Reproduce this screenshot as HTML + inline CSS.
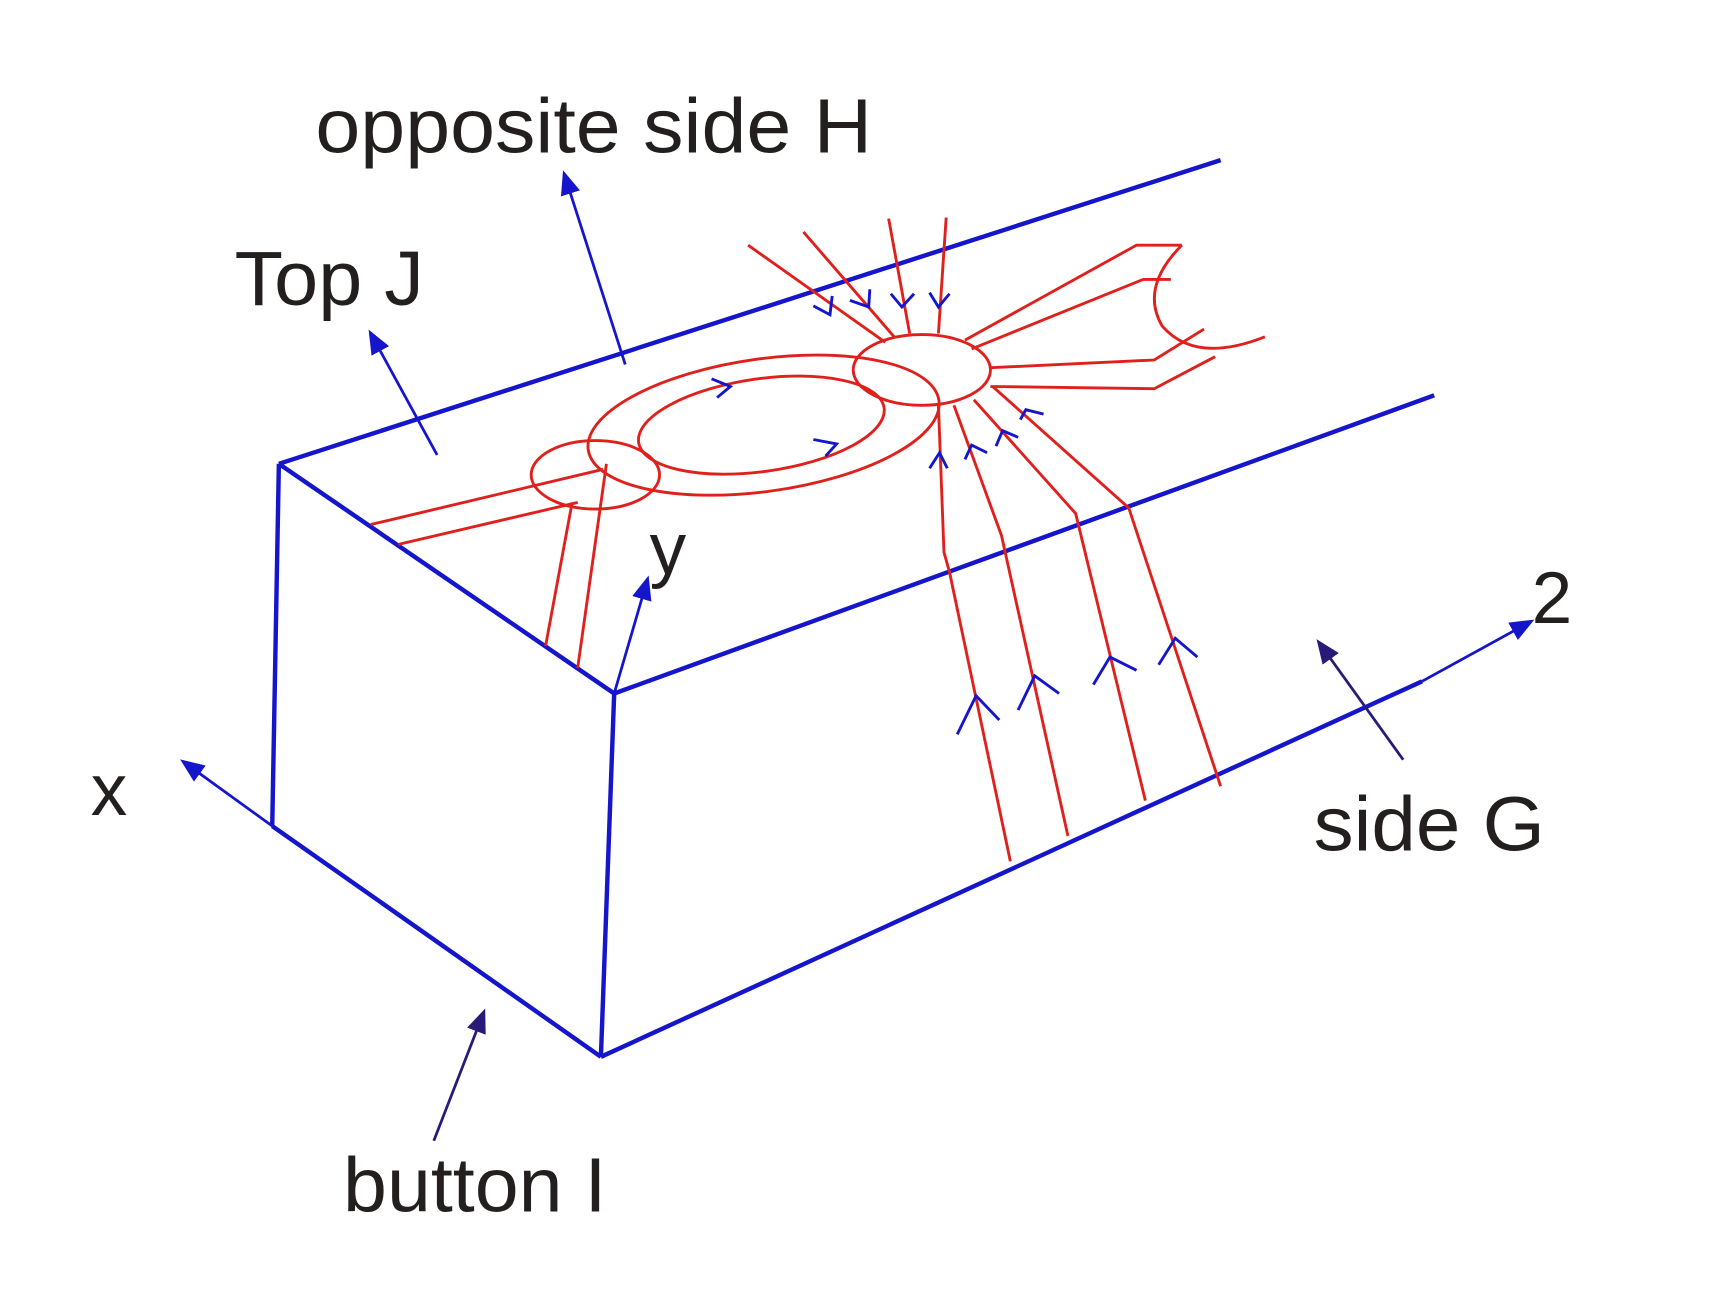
<!DOCTYPE html>
<html><head><meta charset="utf-8"><style>
html,body{margin:0;padding:0;background:#fff}
svg{display:block}
text{font-family:"Liberation Sans",sans-serif;fill:#231f1f}
</style></head><body>
<svg width="1733" height="1313" viewBox="0 0 1566 1189" preserveAspectRatio="none">
<defs>
<marker id="ab" markerWidth="22" markerHeight="18" refX="18" refY="9" orient="auto" markerUnits="userSpaceOnUse" viewBox="0 0 22 18"><path d="M0,0 L22,9 L0,18 z" fill="#1515cc"/></marker>
<marker id="ad" markerWidth="22" markerHeight="18" refX="18" refY="9" orient="auto" markerUnits="userSpaceOnUse" viewBox="0 0 22 18"><path d="M0,0 L22,9 L0,18 z" fill="#2a1a78"/></marker>
</defs>
<g stroke="#1515cc" stroke-width="4" fill="none">
<line x1="252" y1="420" x2="1103" y2="145"/>
<line x1="252" y1="420" x2="555" y2="628"/>
<line x1="555" y1="628" x2="1296" y2="358"/>
<line x1="252" y1="420" x2="246" y2="748"/>
<line x1="555" y1="628" x2="543" y2="957"/>
<line x1="246" y1="748" x2="543" y2="957"/>
<line x1="543" y1="957" x2="1285" y2="617"/>
</g>
<g stroke="#1515cc" stroke-width="2.5" fill="none">
<path d="M1285,617 L1383,563" marker-end="url(#ab)"/>
<line x1="246" y1="748" x2="166" y2="690" marker-end="url(#ab)"/>
<line x1="555" y1="628" x2="585" y2="525" marker-end="url(#ab)"/>
<line x1="565" y1="330" x2="510" y2="158" marker-end="url(#ab)"/>
<line x1="395" y1="412" x2="335" y2="302" marker-end="url(#ab)"/>
</g>
<g stroke="#2a1a78" stroke-width="2.5" fill="none">
<line x1="1268" y1="688" x2="1192" y2="582" marker-end="url(#ad)"/>
<line x1="392" y1="1033" x2="437" y2="917" marker-end="url(#ad)"/>
</g>
<g stroke="#e0201c" stroke-width="2.6" fill="none">
<ellipse cx="538" cy="430" rx="58" ry="31"/>
<ellipse cx="690" cy="385" rx="160" ry="60" transform="rotate(-8 690 385)"/>
<ellipse cx="688" cy="385" rx="112" ry="42" transform="rotate(-8 688 385)"/>
<ellipse cx="833" cy="335" rx="62" ry="32"/>
<line x1="335" y1="475" x2="545" y2="425"/>
<line x1="360" y1="493" x2="522" y2="455"/>
<line x1="493" y1="585" x2="517" y2="455"/>
<line x1="522" y1="605" x2="548" y2="420"/>
<line x1="676" y1="222" x2="800" y2="310"/>
<line x1="726" y1="210" x2="808" y2="305"/>
<line x1="803" y1="198" x2="822" y2="302"/>
<line x1="855" y1="197" x2="848" y2="302"/>
<polyline points="872,308 1027,222 1068,222"/>
<polyline points="878,316 1033,253 1058,253"/>
<path d="M1068,222 Q1030,260 1050,295 Q1080,330 1143,305"/>
<polyline points="895,333 1043,326 1088,298"/>
<polyline points="895,350 1043,352 1098,323"/>
<polyline points="848,367 853,500 858,518 913,780"/>
<polyline points="862,367 905,485 965,757"/>
<polyline points="880,362 972,465 1035,725"/>
<polyline points="897,350 1020,460 1103,712"/>
</g>
<g stroke="#1515cc" stroke-width="2.6" fill="none">
<polyline points="865,665 882,630 903,652"/>
<polyline points="920,643 935,612 957,628"/>
<polyline points="988,620 1003,595 1027,607"/>
<polyline points="1047,602 1062,578 1082,595"/>
<polyline points="735,277 750,285 752,268"/>
<polyline points="768,272 785,278 786,262"/>
<polyline points="805,266 815,278 826,266"/>
<polyline points="840,265 848,278 858,266"/>
<polyline points="840,424 849,410 856,424"/>
<polyline points="872,416 878,403 892,410"/>
<polyline points="900,404 906,390 920,396"/>
<polyline points="922,380 927,371 943,375"/>
<polyline points="643,343 660,350 648,360"/>
<polyline points="735,398 756,402 746,413"/>
</g>
<text x="285" y="138" font-size="70" textLength="503" lengthAdjust="spacingAndGlyphs">opposite side H</text>
<text x="212" y="276" font-size="70" textLength="171" lengthAdjust="spacingAndGlyphs">Top J</text>
<text x="587" y="520" font-size="66">y</text>
<text x="1384" y="564" font-size="66">2</text>
<text x="82" y="738" font-size="66">x</text>
<text x="1187" y="770" font-size="70" textLength="209" lengthAdjust="spacingAndGlyphs">side G</text>
<text x="310" y="1097" font-size="70" textLength="238" lengthAdjust="spacingAndGlyphs">button I</text>
</svg>
</body></html>
